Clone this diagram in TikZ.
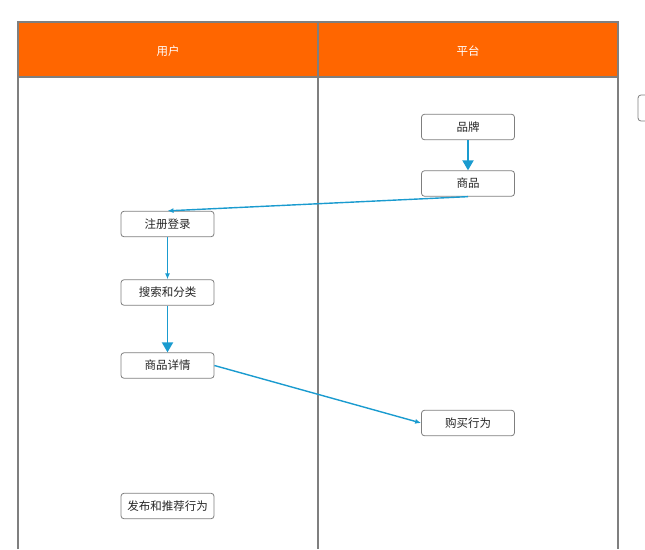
\documentclass[tikz,border=0pt]{standalone}
\usepackage{fontspec}
\newfontfamily\cjk{Noto Sans CJK SC}
\usetikzlibrary{arrows.meta}
\definecolor{laneorange}{HTML}{FF6600}
\definecolor{lanegray}{HTML}{7F7F7F}
\definecolor{flowblue}{HTML}{1A9BCF}
\tikzset{
  stepbox/.style={draw=lanegray, line width=0.8pt, rounded corners=3pt, fill=white,
    minimum width=93pt, minimum height=25.5pt, inner sep=0pt,
    font=\cjk\fontsize{11.5}{12}\selectfont, text=black!85},
  thinflow/.style={draw=flowblue, line width=1.4pt, -{Latex[length=6pt,width=5pt]}},
  thickflow/.style={draw=flowblue, line width=1.9pt, -{Triangle[length=10pt,width=11pt]}},
  lanehead/.style={font=\cjk\fontsize{11.5}{12}\selectfont, text=white}
}
\begin{document}
\begin{tikzpicture}[x=1pt,y=-1pt]
  \useasboundingbox (0,0) rectangle (645,549);
  % header bar
  \fill[laneorange] (18,22) rectangle (618,77);
  \node[lanehead] (huser) at (168,51) {用户};
  \node[lanehead] (hplat) at (468,51) {平台};
  % lane borders
  \draw[lanegray, line width=1.3pt] (18,549) -- (18,22) -- (618,22) -- (618,549);
  \draw[lanegray, line width=1.3pt] (318,22) -- (318,549);
  \draw[lanegray, line width=2pt] (18,77) -- (618,77);
  % partial box at the right edge
  \draw[lanegray, line width=0.8pt, rounded corners=3pt] (660,95) -- (638,95) -- (638,121) -- (660,121);
  % steps
  \node[stepbox] (brand) at (468,127) {品牌};
  \node[stepbox] (goods) at (468,183.5) {商品};
  \node[stepbox] (login) at (167.5,224) {注册登录};
  \node[stepbox] (search) at (167.5,292.5) {搜索和分类};
  \node[stepbox] (detail) at (167.5,365.5) {商品详情};
  \node[stepbox] (buy) at (468,423) {购买行为};
  \node[stepbox] (publish) at (167.5,506) {发布和推荐行为};
  % flows
  \draw[thickflow] (brand) -- (goods);
  \draw[thinflow] (goods.south) -- (login.north);
  \draw[thinflow] (login) -- (search);
  \draw[thickflow] (search) -- (detail);
  \draw[thinflow] (detail.east) -- (buy.west);
\end{tikzpicture}
\end{document}
